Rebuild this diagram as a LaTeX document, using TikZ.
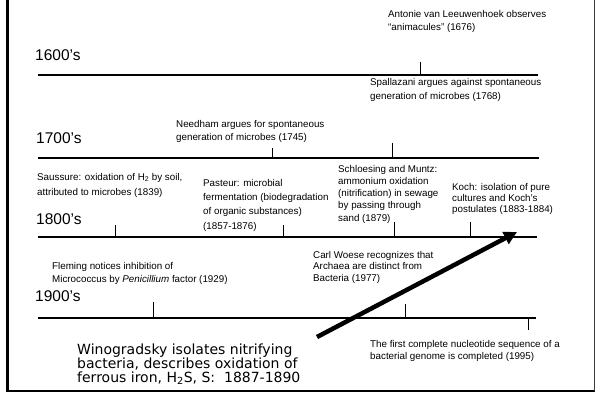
\documentclass[tikz,border=0pt]{standalone}
\usepackage{fontspec}
\setmainfont{Liberation Sans}
\newfontfamily\handfont{DejaVu Sans}
\usepackage{tikz}
\definecolor{rim}{RGB}{60, 60, 60}
\usetikzlibrary{arrows.meta}

\begin{document}
\begin{tikzpicture}[
event/.style={inner sep=0pt, anchor=base west, align=left, font=\fontsize{9.8}{#1}\selectfont},
event/.default=13,
century/.style={inner sep=0pt, anchor=base west, font=\fontsize{15.5}{18}\selectfont},
timeline/.style={line width=2pt, color=black},
yearmark/.style={line width=0.9pt, color=black}]
\useasboundingbox (0pt, 0pt) rectangle (596pt, -394pt);
\draw [line width=3pt, color=black] (7.5pt, 0pt) to (7.5pt, -392pt);
\draw [line width=2.5pt, color=black] (6pt, -391.2pt) to (595pt, -391.2pt);
\draw [line width=0.9pt, color=rim] (594pt, 0pt) to (594pt, -391pt);
\node (c1600) [century] at (35pt, -60pt) {1600’s};
\node (c1700) [century] at (36pt, -143pt) {1700’s};
\node (c1800) [century] at (36pt, -224pt) {1800’s};
\node (c1900) [century] at (35pt, -301pt) {1900’s};
\draw [timeline] (38pt, -75pt) to (538pt, -75pt);
\draw [timeline] (38pt, -158pt) to (539pt, -158pt);
\draw [timeline] (38pt, -237pt) to (537pt, -237pt);
\draw [timeline] (38pt, -318pt) to (536pt, -318pt);
\draw [yearmark] (420pt, -62pt) to (420pt, -75pt);
\draw [yearmark] (272pt, -148pt) to (272pt, -158pt);
\draw [yearmark] (392pt, -143pt) to (392pt, -158pt);
\draw [yearmark] (115pt, -225pt) to (115pt, -237pt);
\draw [yearmark] (283pt, -225pt) to (283pt, -237pt);
\draw [yearmark] (394pt, -222pt) to (394pt, -237pt);
\draw [yearmark] (470pt, -222pt) to (470pt, -237pt);
\draw [yearmark] (153pt, -302pt) to (153pt, -318pt);
\draw [yearmark] (405pt, -304pt) to (405pt, -318pt);
\draw [yearmark] (528pt, -318pt) to (528pt, -330pt);
\node (leeuwenhoek) [event] at (388pt, -30.5pt) {Antonie van Leeuwenhoek observes\\``animacules'' (1676)};
\node (spallazani) [event=14] at (370pt, -99pt) {Spallazani argues against spontaneous\\generation of microbes (1768)};
\node (needham) [event] at (176pt, -140pt) {Needham argues for spontaneous\\generation of microbes (1745)};
\node (saussure) [event=15] at (37pt, -195pt) {Saussure: oxidation of H\textsubscript{2} by soil,\\attributed to microbes (1839)};
\node (pasteur) [event=14.3] at (203pt, -229pt) {Pasteur: microbial\\fermentation (biodegradation\\of organic substances)\\(1857-1876)};
\node (schloesing) [event=12.2] at (338pt, -221pt) {Schloesing and Muntz:\\ammonium oxidation\\(nitrification) in sewage\\by passing through\\sand (1879)};
\node (koch) [event=11.2] at (452pt, -212.4pt) {Koch: isolation of pure\\cultures and Koch’s\\postulates (1883-1884)};
\node (fleming) [event] at (52pt, -282pt) {Fleming notices inhibition of\\Micrococcus by \textit{Penicillium} factor (1929)};
\node (woese) [event=11.7] at (313pt, -281.4pt) {Carl Woese recognizes that\\Archaea are distinct from\\Bacteria (1977)};
\node (genome) [event=12] at (370pt, -359pt) {The first complete nucleotide sequence of a\\bacterial genome is completed (1995)};
\node (winogradsky) [inner sep=0pt, anchor=base west, align=left, font=\handfont\fontsize{14}{14}\selectfont] at (77pt, -382pt) {Winogradsky isolates nitrifying\\bacteria, describes oxidation of\\ferrous iron, H\textsubscript{2}S, S:~~1887-1890};
\coordinate (tail) at (317pt, -337pt);
\coordinate (head) at (517pt, -232pt);
\draw [line width=4.5pt, color=black, -{Triangle[length=13pt, width=13pt]}] (tail) to (head);
\end{tikzpicture}
\end{document}
